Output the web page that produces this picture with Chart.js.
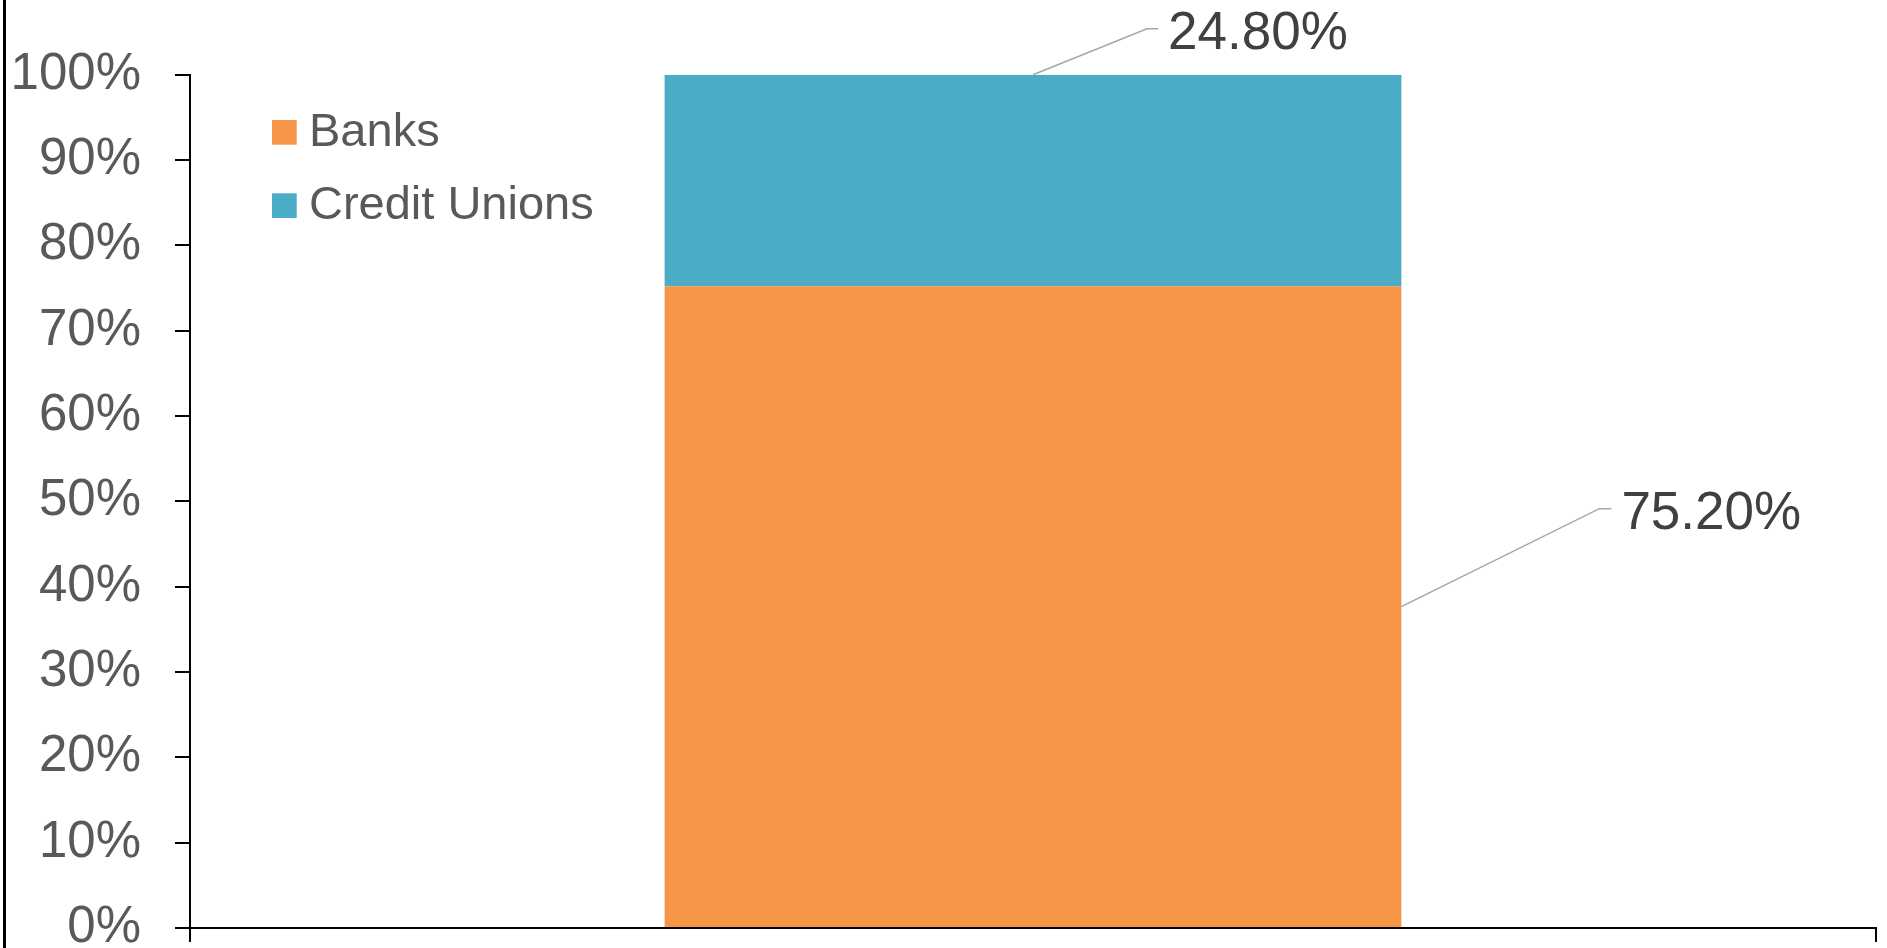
<!DOCTYPE html>
<html>
<head>
<meta charset="utf-8">
<title>Banks vs Credit Unions</title>
<script src="https://cdn.jsdelivr.net/npm/chart.js@4.4.0/dist/chart.umd.min.js"></script>
<style>
    html, body { margin: 0; padding: 0; background: #fff; }
    #wrap { position: relative; width: 1887px; height: 948px; overflow: hidden; }
    #frame { position: absolute; left: 3px; top: 0; width: 3px; height: 948px; background: #000; }
</style>
</head>
<body>
<div id="wrap">
    <canvas id="chart"></canvas>
    <div id="frame"></div>
</div>
<script>
// Market share, single stacked column
const categories = [''];
const banksShare = [75.2];
const creditUnionsShare = [24.8];
const seriesLabels = ['Banks', 'Credit Unions'];
const seriesColors = ['#F79646', '#4BACC6'];

const FONT = "'Liberation Sans', Arial, sans-serif";

// Legend drawn inside the plot, top-left
const insideLegend = {
    id: 'insideLegend',
    afterDraw(chart) {
        const ctx = chart.ctx;
        ctx.save();
        ctx.font = `47px ${FONT}`;
        ctx.textBaseline = 'alphabetic';
        ctx.textAlign = 'left';
        chart.data.datasets.forEach((ds, i) => {
            const top = 120 + i * 73.3;
            ctx.fillStyle = ds.backgroundColor;
            ctx.fillRect(272, top, 24.7, 24.7);
            ctx.fillStyle = '#595959';
            ctx.fillText(ds.label, 309, top + 26);
        });
        ctx.restore();
    }
};

// Value labels with leader lines
const leaderLabels = {
    id: 'leaderLabels',
    afterDatasetsDraw(chart) {
        const ctx = chart.ctx;
        ctx.save();
        chart.data.datasets.forEach((ds, i) => {
            const leader = ds.leader;
            if (!leader) return;
            chart.getDatasetMeta(i).data.forEach((bar, j) => {
                const p = bar.getProps(['x', 'y', 'base', 'width'], true);
                let x0, y0;
                if (leader.anchor === 'top') {
                    x0 = p.x;
                    y0 = p.y;
                } else {
                    x0 = p.x + p.width / 2;
                    y0 = (p.y + p.base) / 2;
                }
                const x1 = x0 + leader.dx;
                const y1 = y0 + leader.dy;
                const x2 = x1 + leader.run;
                ctx.strokeStyle = '#A6A6A6';
                ctx.lineWidth = 1.5;
                ctx.beginPath();
                ctx.moveTo(x0, y0);
                ctx.lineTo(x1, y1);
                ctx.lineTo(x2, y1);
                ctx.stroke();

                ctx.fillStyle = '#404040';
                ctx.font = `53px ${FONT}`;
                ctx.textAlign = 'left';
                ctx.textBaseline = 'alphabetic';
                ctx.fillText(ds.data[j].toFixed(2) + '%', x2 + 10, y1 + 20);
            });
        });
        ctx.restore();
    }
};

const ctx = document.getElementById('chart').getContext('2d');
new Chart(ctx, {
    type: 'bar',
    data: {
        labels: categories,
        datasets: [
            {
                label: seriesLabels[0],
                data: banksShare,
                backgroundColor: seriesColors[0],
                leader: { anchor: 'side', dx: 198, dy: -98, run: 12 }
            },
            {
                label: seriesLabels[1],
                data: creditUnionsShare,
                backgroundColor: seriesColors[1],
                leader: { anchor: 'top', dx: 114, dy: -46, run: 11 }
            }
        ]
    },
    options: {
        responsive: true,
        maintainAspectRatio: false,
        animation: false,
        layout: { padding: { top: 74.7, right: 11, bottom: 0, left: 0 } },
        datasets: {
            bar: { barPercentage: 0.437, categoryPercentage: 1 }
        },
        plugins: {
            legend: { display: false },
            tooltip: { enabled: false }
        },
        scales: {
            x: {
                stacked: true,
                offset: true,
                ticks: { display: false },
                grid: {
                    offset: true,
                    drawOnChartArea: false,
                    drawTicks: true,
                    tickLength: 14,
                    color: '#000',
                    lineWidth: 2
                },
                border: { color: '#000', width: 2 },
                afterFit(scale) {
                    scale.height = 20;
                    scale.paddingLeft = 0;
                    scale.paddingRight = 0;
                }
            },
            y: {
                stacked: true,
                min: 0,
                max: 100,
                ticks: {
                    stepSize: 10,
                    padding: 34,
                    color: '#595959',
                    font: { family: FONT, size: 51 },
                    callback: (v) => v + '%'
                },
                grid: {
                    drawOnChartArea: false,
                    drawTicks: true,
                    tickLength: 15,
                    color: '#000',
                    lineWidth: 2
                },
                border: { color: '#000', width: 2 },
                afterFit(scale) {
                    scale.width = 190;
                    scale.paddingTop = 0;
                    scale.paddingBottom = 0;
                }
            }
        }
    },
    plugins: [leaderLabels, insideLegend]
});
</script>
</body>
</html>
